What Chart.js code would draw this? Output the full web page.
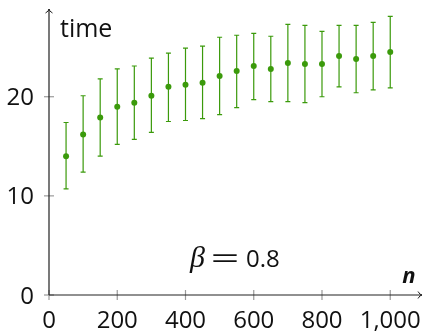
<!DOCTYPE html>
<html>
<head>
<meta charset="utf-8">
<script src="https://cdn.jsdelivr.net/npm/chart.js@4/dist/chart.umd.min.js"></script>
<style>
  body { margin: 0; background: #fff; }
  #wrap { width: 426px; height: 333px; }
</style>
</head>
<body>
<div id="wrap"><canvas id="chart" width="426" height="333"></canvas></div>
<script>
// data
const nValues   = [50, 100, 150, 200, 250, 300, 350, 400, 450, 500,
                   550, 600, 650, 700, 750, 800, 850, 900, 950, 1000];
const meanTime  = [14.0, 16.2, 17.9, 19.0, 19.4, 20.1, 21.0, 21.2, 21.4, 22.1,
                   22.6, 23.1, 22.8, 23.4, 23.3, 23.3, 24.1, 23.8, 24.1, 24.5];
const lowerTime = [10.7, 12.4, 14.0, 15.2, 15.7, 16.4, 17.5, 17.6, 17.8, 18.2,
                   18.9, 19.7, 19.5, 19.5, 19.4, 20.0, 21.0, 20.4, 20.7, 20.9];
const upperTime = [17.4, 20.1, 21.8, 22.8, 23.1, 23.9, 24.4, 24.9, 25.1, 26.0,
                   26.2, 26.4, 26.1, 27.3, 27.2, 26.6, 27.2, 27.2, 27.5, 28.1];

const xTicks = [0, 200, 400, 600, 800, 1000];
const xTickLabels = ['0', '200', '400', '600', '800', '1,000'];
const yTicks = [0, 10, 20];
const yTickLabels = ['0', '10', '20'];

const green = '#3b9a0b';
const font = '"Open Sans", sans-serif';

// error bars, drawn through the chart scales
const errorBars = {
    id: 'errorBars',
    beforeDatasetsDraw(chart) {
        const { ctx, scales: { x, y } } = chart;
        ctx.save();
        ctx.strokeStyle = green;
        ctx.lineWidth = 1.2;
        nValues.forEach((n, i) => {
            const px = x.getPixelForValue(n);
            const top = y.getPixelForValue(upperTime[i]);
            const bot = y.getPixelForValue(lowerTime[i]);
            ctx.beginPath();
            ctx.moveTo(px, top);
            ctx.lineTo(px, bot);
            ctx.moveTo(px - 2.5, top);
            ctx.lineTo(px + 2.5, top);
            ctx.moveTo(px - 2.5, bot);
            ctx.lineTo(px + 2.5, bot);
            ctx.stroke();
        });
        ctx.restore();
    }
};

// axes with arrows, ticks and labels
const axesDecor = {
    id: 'axesDecor',
    afterDraw(chart) {
        const { ctx, chartArea, scales: { x, y } } = chart;
        const x0 = x.getPixelForValue(0);
        const y0 = y.getPixelForValue(0);
        ctx.save();

        // tick marks
        ctx.strokeStyle = '#9a9a9a';
        ctx.lineWidth = 1.2;
        xTicks.forEach(v => {
            const px = x.getPixelForValue(v);
            ctx.beginPath();
            ctx.moveTo(px, y0 - 5);
            ctx.lineTo(px, y0 + 5);
            ctx.stroke();
        });
        yTicks.forEach(v => {
            const py = y.getPixelForValue(v);
            ctx.beginPath();
            ctx.moveTo(x0 - 5, py);
            ctx.lineTo(x0 + 5, py);
            ctx.stroke();
        });

        // axis lines
        ctx.strokeStyle = '#222';
        ctx.lineWidth = 1.2;
        ctx.beginPath();
        ctx.moveTo(x0, y0);
        ctx.lineTo(x0, chartArea.top + 1);
        ctx.moveTo(x0, y0);
        ctx.lineTo(chartArea.right - 1, y0);
        ctx.stroke();
        // arrow heads
        ctx.lineWidth = 1;
        ctx.beginPath();
        ctx.moveTo(x0 - 3.5, chartArea.top + 5);
        ctx.quadraticCurveTo(x0, chartArea.top + 3, x0, chartArea.top + 1);
        ctx.quadraticCurveTo(x0, chartArea.top + 3, x0 + 3.5, chartArea.top + 5);
        ctx.moveTo(chartArea.right - 5, y0 - 3.5);
        ctx.quadraticCurveTo(chartArea.right - 3, y0, chartArea.right - 1, y0);
        ctx.quadraticCurveTo(chartArea.right - 3, y0, chartArea.right - 5, y0 + 3.5);
        ctx.stroke();

        // tick labels
        ctx.fillStyle = '#111';
        ctx.font = '24px ' + font;
        ctx.textBaseline = 'alphabetic';
        ctx.textAlign = 'center';
        xTicks.forEach((v, i) => {
            ctx.fillText(xTickLabels[i], x.getPixelForValue(v), 328);
        });
        ctx.textAlign = 'right';
        yTicks.forEach((v, i) => {
            ctx.fillText(yTickLabels[i], 34, y.getPixelForValue(v) + 8.5);
        });

        // annotation: beta = 0.8
        ctx.textAlign = 'left';
        ctx.fillText('0.8', 246, 267);
        ctx.font = 'italic 30px "Liberation Serif", serif';
        ctx.fillText('\u03B2', 190, 267);
        ctx.setTransform(2.0, 0, 0, 1, 211, 266);
        ctx.font = '24px "Liberation Sans", sans-serif';
        ctx.fillText('=', 0, 0);
        ctx.setTransform(1, 0, 0, 1, 0, 0);

        // axis titles
        ctx.font = '25px ' + font;
        ctx.fillText('time', 60, 37);
        ctx.font = 'italic bold 22px ' + font;
        ctx.textAlign = 'center';
        ctx.fillText('n', 409, 283);

        ctx.restore();
    }
};

new Chart(document.getElementById('chart'), {
    type: 'scatter',
    data: {
        datasets: [{
            label: 'time',
            data: nValues.map((n, i) => ({ x: n, y: meanTime[i] })),
            backgroundColor: green,
            borderColor: green,
            pointRadius: 3,
            pointHoverRadius: 3,
            borderWidth: 0
        }]
    },
    options: {
        responsive: false,
        animation: false,
        layout: { padding: { left: 49, right: 0, top: 8, bottom: 38 } },
        plugins: {
            legend: { display: false },
            tooltip: { enabled: false }
        },
        scales: {
            x: { type: 'linear', display: false, min: 0, max: 1096 },
            y: { type: 'linear', display: false, min: 0, max: 28.95 }
        }
    },
    plugins: [errorBars, axesDecor]
});
</script>
</body>
</html>
